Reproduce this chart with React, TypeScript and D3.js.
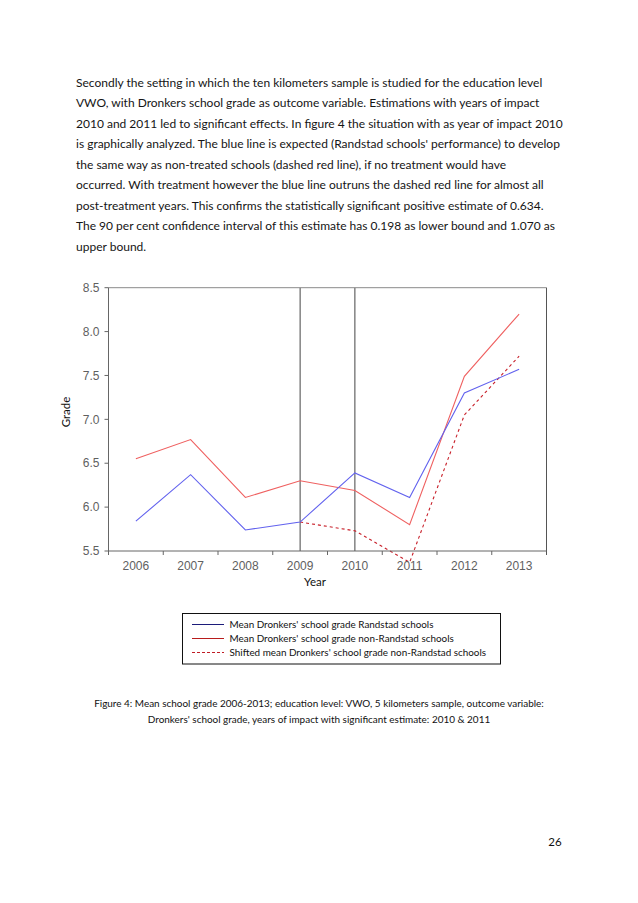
import { useEffect, useRef } from "react";
import * as d3 from "d3";

// Figure 4 data: mean school grade per year, VWO, 5 km sample.
const years = ["2006", "2007", "2008", "2009", "2010", "2011", "2012", "2013"];
const randstad = [5.84, 6.37, 5.74, 5.83, 6.39, 6.11, 7.3, 7.57];
const nonRandstad = [6.55, 6.77, 6.11, 6.3, 6.19, 5.8, 7.49, 8.2];
const shiftedNonRandstad: (number | null)[] = [null, null, null, 5.83, 5.73, 5.37, 7.05, 7.72];
const yTicks = [5.5, 6.0, 6.5, 7.0, 7.5, 8.0, 8.5];
const impactYears = ["2009", "2010"];

const legendLabels = [
  "Mean Dronkers' school grade Randstad schools",
  "Mean Dronkers' school grade non-Randstad schools",
  "Shifted mean Dronkers' school grade non-Randstad schools",
];

const paragraph = [
  "Secondly the setting in which the ten kilometers sample is studied for the education level",
  "VWO, with Dronkers school grade as outcome variable.  Estimations with years of impact",
  "2010 and 2011 led to significant effects. In figure 4 the situation with as year of impact 2010",
  "is graphically analyzed. The blue line is expected (Randstad schools' performance) to develop",
  "the same way as non-treated schools (dashed red line), if no treatment would have",
  "occurred. With treatment however the blue line outruns the dashed red line for almost all",
  "post-treatment years. This confirms the statistically significant positive estimate of 0.634.",
  "The 90 per cent confidence interval of this estimate has 0.198 as lower bound and 1.070 as",
  "upper bound.",
];

const caption = [
  "Figure 4: Mean school grade 2006-2013; education level: VWO, 5 kilometers sample, outcome variable:",
  "Dronkers' school grade, years of impact with significant estimate: 2010 & 2011",
];

const W = 638;
const H = 903;
const PLOT = { left: 108.5, right: 546.5, top: 287.7, bottom: 551 };
const TEXT_FONT = "Lato, 'Open Sans', sans-serif";
const TICK_FONT = "'Liberation Sans', Arial, sans-serif";

export default function App() {
  const svgRef = useRef<SVGSVGElement | null>(null);

  useEffect(() => {
    const svg = d3.select(svgRef.current);
    svg.selectAll("*").remove();

    svg.append("rect").attr("width", W).attr("height", H).attr("fill", "#fff");

    // Body text above the figure.
    svg
      .append("g")
      .selectAll("text")
      .data(paragraph)
      .join("text")
      .attr("x", 76)
      .attr("y", (_, i) => 86.5 + i * 20.5)
      .attr("font-family", TEXT_FONT)
      .attr("font-size", 12)
      .attr("fill", "#151515")
      .text((d) => d);

    const x = d3.scaleBand<string>().domain(years).range([PLOT.left, PLOT.right]);
    const y = d3.scaleLinear().domain([5.5, 8.5]).range([PLOT.bottom, PLOT.top]);
    const cx = (yr: string) => (x(yr) ?? 0) + x.bandwidth() / 2;

    const chart = svg.append("g");

    // Vertical impact markers.
    chart
      .selectAll("line.impact")
      .data(impactYears)
      .join("line")
      .attr("class", "impact")
      .attr("x1", cx)
      .attr("x2", cx)
      .attr("y1", PLOT.top)
      .attr("y2", PLOT.bottom)
      .attr("stroke", "#555")
      .attr("stroke-width", 1.1);

    const line = d3
      .line<number | null>()
      .defined((d) => d != null)
      .x((_, i) => cx(years[i]))
      .y((d) => y(d as number));

    chart
      .append("path")
      .attr("d", line(nonRandstad))
      .attr("fill", "none")
      .attr("stroke", "#ef6060")
      .attr("stroke-width", 1.1);
    chart
      .append("path")
      .attr("d", line(shiftedNonRandstad))
      .attr("fill", "none")
      .attr("stroke", "#c8202a")
      .attr("stroke-width", 1.1)
      .attr("stroke-dasharray", "3 3");
    chart
      .append("path")
      .attr("d", line(randstad))
      .attr("fill", "none")
      .attr("stroke", "#6262ee")
      .attr("stroke-width", 1.1);

    // Frame.
    chart
      .append("line")
      .attr("x1", PLOT.left)
      .attr("x2", PLOT.right)
      .attr("y1", PLOT.top)
      .attr("y2", PLOT.top)
      .attr("stroke", "#8a8a8a");
    chart
      .append("line")
      .attr("x1", PLOT.right)
      .attr("x2", PLOT.right)
      .attr("y1", PLOT.top)
      .attr("y2", PLOT.bottom + 4)
      .attr("stroke", "#555");
    chart
      .append("line")
      .attr("x1", PLOT.left)
      .attr("x2", PLOT.left)
      .attr("y1", PLOT.top)
      .attr("y2", PLOT.bottom + 4)
      .attr("stroke", "#666");
    chart
      .append("line")
      .attr("x1", PLOT.left)
      .attr("x2", PLOT.right)
      .attr("y1", PLOT.bottom)
      .attr("y2", PLOT.bottom)
      .attr("stroke", "#666");

    // Y axis ticks + labels.
    chart
      .selectAll("line.ytick")
      .data(yTicks)
      .join("line")
      .attr("class", "ytick")
      .attr("x1", PLOT.left - 4)
      .attr("x2", PLOT.left)
      .attr("y1", (d) => y(d))
      .attr("y2", (d) => y(d))
      .attr("stroke", "#666");
    chart
      .selectAll("text.ylab")
      .data(yTicks)
      .join("text")
      .attr("class", "ylab")
      .attr("x", 99.5)
      .attr("y", (d) => y(d) + 4.2)
      .attr("text-anchor", "end")
      .attr("font-family", TICK_FONT)
      .attr("font-size", 12)
      .attr("fill", "#5f5f5f")
      .text((d) => d.toFixed(1));

    // X axis ticks at band edges, labels at centres.
    chart
      .selectAll("line.xtick")
      .data(years.slice(1))
      .join("line")
      .attr("class", "xtick")
      .attr("x1", (d) => x(d) ?? 0)
      .attr("x2", (d) => x(d) ?? 0)
      .attr("y1", PLOT.bottom)
      .attr("y2", PLOT.bottom + 4)
      .attr("stroke", "#666");
    chart
      .selectAll("text.xlab")
      .data(years)
      .join("text")
      .attr("class", "xlab")
      .attr("x", cx)
      .attr("y", 569.5)
      .attr("text-anchor", "middle")
      .attr("font-family", TICK_FONT)
      .attr("font-size", 12)
      .attr("fill", "#5f5f5f")
      .text((d) => d);

    chart
      .append("text")
      .attr("x", 315)
      .attr("y", 586)
      .attr("text-anchor", "middle")
      .attr("font-family", TEXT_FONT)
      .attr("font-size", 11.5)
      .attr("fill", "#111")
      .text("Year");
    chart
      .append("text")
      .attr("transform", "translate(69.5,412) rotate(-90)")
      .attr("text-anchor", "middle")
      .attr("font-family", TEXT_FONT)
      .attr("font-size", 11.5)
      .attr("fill", "#111")
      .text("Grade");

    // Legend box.
    const legend = svg.append("g");
    legend
      .append("rect")
      .attr("x", 182.5)
      .attr("y", 613.5)
      .attr("width", 318)
      .attr("height", 50.5)
      .attr("fill", "#fff")
      .attr("stroke", "#111")
      .attr("stroke-width", 1);
    const legendStyles = [
      { stroke: "#1c1c7a", dash: null },
      { stroke: "#b81c1c", dash: null },
      { stroke: "#c01c24", dash: "3 2" },
    ];
    const rows = legend
      .selectAll("g.row")
      .data(legendLabels)
      .join("g")
      .attr("class", "row")
      .attr("transform", (_, i) => `translate(0,${624.5 + i * 14})`);
    rows
      .append("line")
      .attr("x1", 192)
      .attr("x2", 224)
      .attr("stroke", (_, i) => legendStyles[i].stroke)
      .attr("stroke-dasharray", (_, i) => legendStyles[i].dash)
      .attr("stroke-width", 1);
    rows
      .append("text")
      .attr("x", 229.5)
      .attr("y", 3.8)
      .attr("font-family", TEXT_FONT)
      .attr("font-size", 9.9)
      .attr("fill", "#111")
      .text((d) => d);

    // Caption.
    svg
      .append("g")
      .selectAll("text")
      .data(caption)
      .join("text")
      .attr("x", 319)
      .attr("y", (_, i) => 706.5 + i * 16.8)
      .attr("text-anchor", "middle")
      .attr("font-family", TEXT_FONT)
      .attr("font-size", 9.95)
      .attr("fill", "#111")
      .text((d) => d);

    // Page number.
    svg
      .append("text")
      .attr("x", 555)
      .attr("y", 845.5)
      .attr("text-anchor", "middle")
      .attr("font-family", TEXT_FONT)
      .attr("font-size", 11.5)
      .attr("fill", "#111")
      .text("26");
  }, []);

  return (
    <svg
      ref={svgRef}
      width={W}
      height={H}
      viewBox={`0 0 ${W} ${H}`}
      style={{ position: "absolute", left: 0, top: 0, display: "block" }}
    />
  );
}
